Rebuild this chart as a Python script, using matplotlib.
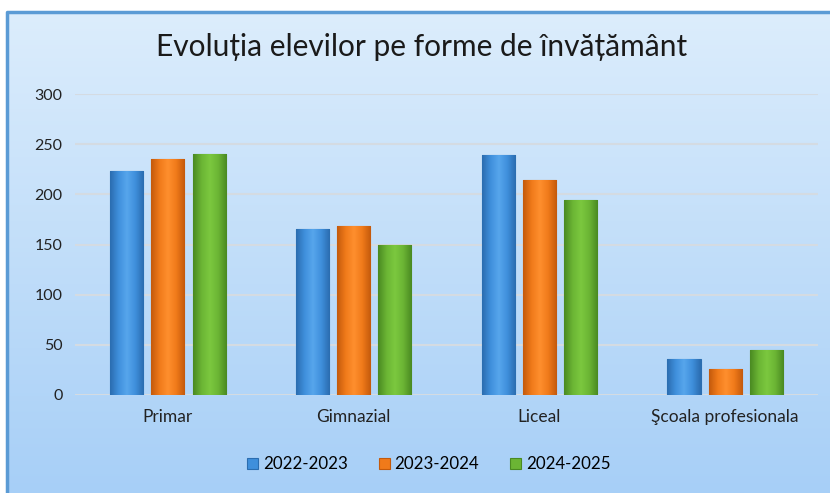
import matplotlib.pyplot as plt
import numpy as np
from matplotlib.colors import LinearSegmentedColormap

plt.rcParams["font.family"] = ["Lato", "DejaVu Sans"]

# data
categories = ["Primar", "Gimnazial", "Liceal", "Şcoala profesionala"]
years = ["2022-2023", "2023-2024", "2024-2025"]
v_2022 = [223, 165, 239, 36]
v_2023 = [235, 168, 214, 26]
v_2024 = [240, 150, 194, 45]
series = [v_2022, v_2023, v_2024]

# (dark edge, mid, highlight) for the bevelled look
shades = [
    ("#2b6db0", "#3f8fdc", "#57a6ec"),
    ("#c45a0c", "#f07a1a", "#ff8f2e"),
    ("#4a8a22", "#6bb534", "#7cc83f"),
]

fig = plt.figure(figsize=(8.3, 4.93), dpi=100)

# background panel with vertical gradient and border
bg = fig.add_axes([0, 0, 1, 1], zorder=-10)
bg.set_xlim(0, 830)
bg.set_ylim(493, 0)
bg.axis("off")
grad = np.linspace(0, 1, 256).reshape(-1, 1)
bg_cmap = LinearSegmentedColormap.from_list("bg", ["#dcedfc", "#a7cff7"])
bg.imshow(grad, cmap=bg_cmap, extent=[7, 830, 493, 12], aspect="auto")
bg.plot([7, 7, 830], [493, 12, 12], color="#5b9bd5", lw=2.5)

ax = fig.add_axes([0.0904, 0.1988, 0.8952, 0.6105])
ax.patch.set_alpha(0)
x = np.arange(len(categories))
step = 0.2216
width = 0.178

for i, (vals, (dark, mid, light)) in enumerate(zip(series, shades)):
    bars = ax.bar(x + (i - 1) * step, vals, width, color=mid,
                  edgecolor=dark, linewidth=0.8, label=years[i], zorder=3)
    cmap = LinearSegmentedColormap.from_list("b%d" % i, [dark, mid, light, mid, dark])
    hgrad = np.linspace(0, 1, 64).reshape(1, -1)
    for b in bars:
        x0, w, h = b.get_x(), b.get_width(), b.get_height()
        im = ax.imshow(hgrad, cmap=cmap, extent=[x0, x0 + w, 0, h],
                       aspect="auto", zorder=3.5)
        im.set_clip_path(b)

ax.set_xlim(-0.5, len(categories) - 0.5)
ax.set_ylim(0, 300)
ax.set_yticks(range(0, 301, 50))
ax.set_xticks(x)
ax.set_xticklabels(categories)
ax.grid(axis="y", color="#d4dbe2", linewidth=1.5, zorder=0)
ax.tick_params(axis="both", length=0, labelsize=12.5, colors="#222222")
ax.tick_params(axis="y", pad=9, labelsize=11.5)
ax.tick_params(axis="x", pad=10)
for s in ax.spines.values():
    s.set_visible(False)

fig.text(0.508, 0.905, "Evoluția elevilor pe forme de învățământ",
         ha="center", va="center", fontsize=21.5, color="#1a1a1a")

leg = ax.legend(loc="center", bbox_to_anchor=(0.476, -0.23),
                ncol=3, frameon=False, fontsize=12.2, handlelength=0.65,
                handleheight=0.65, handletextpad=0.3, columnspacing=1.8)

fig.savefig("out.png", dpi=100)
